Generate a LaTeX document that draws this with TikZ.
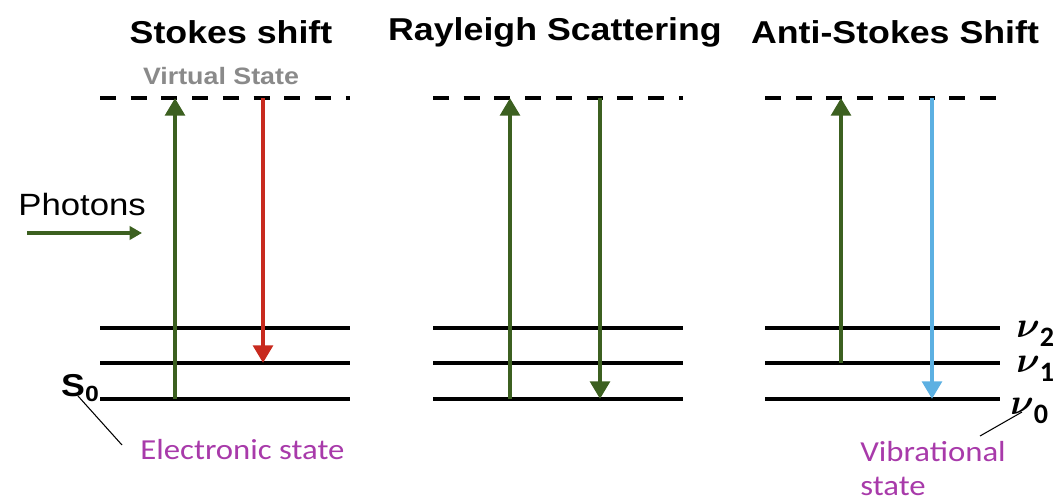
\documentclass[tikz,border=0pt]{standalone}
\usepackage{amsmath}
\usepackage{fontspec}
\setmainfont{Liberation Sans}
\setsansfont{Liberation Sans}
\newfontfamily\calibri{Carlito}
\usetikzlibrary{arrows.meta}

\definecolor{pumpgreen}{RGB}{60,96,32}
\definecolor{stokesred}{RGB}{200,42,30}
\definecolor{antiblue}{RGB}{92,176,226}
\definecolor{notemagenta}{RGB}{168,58,170}
\definecolor{virtualgray}{RGB}{138,138,138}

\def\yvirt{98}
\def\ytwo{328}
\def\yone{363}
\def\yzero{399}

% bold nu with an upright subscript
\newcommand\vibnu[1]{$\boldsymbol{\nu}$\raisebox{-0.45ex}{\calibri\bfseries\fontsize{16}{16}\selectfont #1}}

\tikzset{
  level/.style={line width=2.8pt},
  virtual/.style={line width=2.7pt, dash pattern=on 9pt off 8.5pt},
  tip/.style={-{Triangle[length=10pt,width=11pt]}},
  pump/.style={tip, pumpgreen, line width=2.6pt},
  stokes/.style={tip, stokesred, line width=2.6pt},
  anti/.style={tip, antiblue, line width=2.6pt},
  leader/.style={line width=0.6pt},
  wide/.style={xscale=1.13, transform shape},
  title/.style={wide, font=\sffamily\bfseries\fontsize{18}{21}\selectfont},
  note/.style={wide, notemagenta, font=\calibri\fontsize{16.5}{19.5}\selectfont},
  vib/.style={anchor=base west, inner sep=0pt, font=\fontsize{22}{24}\selectfont}
}

\begin{document}
\begin{tikzpicture}[x=0.02cm, y=-0.02cm]
  \useasboundingbox (0,0) rectangle (1056,504);

  % titles
  \node[title] (t-sk) at (231,32) {Stokes shift};
  \node[title] (t-ra) at (555,32) {Rayleigh Scattering};
  \node[title] (t-an) at (895,32) {Anti-Stokes Shift};
  \node[wide, virtualgray, font=\sffamily\bfseries\fontsize{13.5}{16}\selectfont]
    (vstate) at (221,76) {Virtual State};

  % energy levels of the three panels
  \foreach \p/\xl/\xr in {sk/100/350, ra/433/683, an/765/1000} {
    \coordinate (\p-v-l) at (\xl,\yvirt);
    \coordinate (\p-v-r) at (\xr,\yvirt);
    \draw[virtual] (\p-v-l) -- (\p-v-r);
    \foreach \n/\y in {0/\yzero, 1/\yone, 2/\ytwo} {
      \coordinate (\p-\n-l) at (\xl,\y);
      \coordinate (\p-\n-r) at (\xr,\y);
      \draw[level] (\p-\n-l) -- (\p-\n-r);
    }
  }

  % transitions
  \foreach \p/\x/\ya/\yb/\kind in {
      sk/175/\yzero/\yvirt/pump,
      sk/263/\yvirt/\yone/stokes,
      ra/510/\yzero/\yvirt/pump,
      ra/600/\yvirt/\yzero/pump,
      an/841/\yone/\yvirt/pump,
      an/932/\yvirt/\yzero/anti} {
    \coordinate (\p-\x-a) at (\x,\ya);
    \coordinate (\p-\x-b) at (\x,\yb);
    \draw[\kind] (\p-\x-a) -- (\p-\x-b);
  }

  % incoming photons
  \node[wide, anchor=west, inner sep=0pt, font=\sffamily\fontsize{17.5}{20}\selectfont]
    (photons) at (18,205) {Photons};
  \coordinate (ph-a) at (27,233);
  \coordinate (ph-b) at (142,233);
  \draw[pumpgreen, line width=2pt, -{Triangle[length=7pt,width=7.5pt]}] (ph-a) -- (ph-b);

  % electronic state label
  \coordinate (s0-a) at (78,396);
  \coordinate (s0-b) at (122,445);
  \draw[leader] (s0-a) -- (s0-b);
  \node[wide, anchor=base, inner sep=0pt, font=\sffamily\bfseries\fontsize{18}{20}\selectfont]
    (s0) at (80,396) {S\raisebox{-0.35ex}{\fontsize{12.5}{12}\selectfont 0}};
  \node[note, anchor=west, inner sep=0pt] (elec) at (140,450) {Electronic state};

  % vibrational levels
  \node[vib] (nu2) at (1016,337) {\vibnu{2}};
  \node[vib] (nu1) at (1016,372) {\vibnu{1}};
  \node[vib] (nu0) at (1010,414) {\vibnu{0}};
  \coordinate (nu-a) at (1022,412);
  \coordinate (nu-b) at (980,436);
  \draw[leader] (nu-a) -- (nu-b);
  \node[note, anchor=north west, align=left, inner sep=0pt] (vib) at (860,441)
    {Vibrational\\state};
\end{tikzpicture}
\end{document}
